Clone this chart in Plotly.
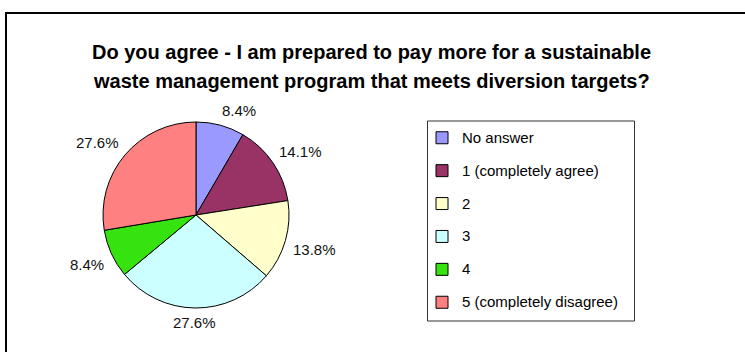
import math
import plotly.graph_objects as go

W, H = 745, 352

categories = ["No answer", "1 (completely agree)", "2", "3", "4", "5 (completely disagree)"]
percentages = [8.4, 14.1, 13.8, 27.6, 8.4, 27.6]
colors = ["#9999FF", "#993366", "#FFFFCC", "#CCFFFF", "#36E30E", "#FF8080"]
title_lines = [
    "Do you agree - I am prepared to pay more for a sustainable",
    "waste management program that meets diversion targets?",
]

FONT = "Liberation Sans, Arial, sans-serif"

# pie geometry (pixels)
CX, CY, R = 196, 215, 93


def px_x(x):
    return x / W


def px_y(y):
    return 1 - y / H


LEG_TEXT = 15
LEG_ROW = 23  # legend font size that yields the tall row pitch
legend_names = [
    f'<span style="font-size:{LEG_TEXT}px;baseline-shift:4px">{c}</span>' for c in categories
]

fig = go.Figure()
fig.add_trace(go.Pie(
    labels=legend_names,
    values=percentages,
    sort=False,
    direction="clockwise",
    rotation=0,
    marker=dict(colors=colors, line=dict(color="black", width=1)),
    textinfo="none",
    hoverinfo="skip",
    domain=dict(x=[px_x(CX - R), px_x(CX + R)], y=[px_y(CY + R), px_y(CY - R)]),
))

annotations = []
for i, line in enumerate(title_lines):
    annotations.append(dict(
        text=f"<b>{line}</b>", x=px_x(371), y=px_y(52 + 29 * i),
        xref="paper", yref="paper", xanchor="center", yanchor="middle",
        showarrow=False, font=dict(family=FONT, size=20, color="black"),
    ))

# percentage labels: near corner of each label anchored just outside the slice mid angle
total = sum(percentages)
cum = 0.0
LAB = 15
GAP = 101
for v in percentages:
    mid = (cum + v / 2) / total * 2 * math.pi
    cum += v
    ux, uy = math.sin(mid), -math.cos(mid)
    txt = f"{v:.1f}%"
    half_w = len(txt) * LAB * 0.56 / 2
    half_h = 7
    ox = half_w * max(-1.0, min(1.0, ux * 4))
    oy = half_h * max(-1.0, min(1.0, uy * 4))
    annotations.append(dict(
        text=txt, x=px_x(CX + ux * GAP + ox), y=px_y(CY + uy * GAP + oy),
        xref="paper", yref="paper", xanchor="center", yanchor="middle",
        showarrow=False, font=dict(family=FONT, size=LAB, color="#111111"),
    ))

shapes = [
    # outer chart border
    dict(type="rect", xref="paper", yref="paper",
         x0=px_x(6), x1=px_x(W + 20), y0=px_y(H + 20), y1=px_y(13),
         line=dict(color="black", width=2), fillcolor="rgba(0,0,0,0)", layer="above"),
    # legend box
    dict(type="rect", xref="paper", yref="paper",
         x0=px_x(427.5), x1=px_x(634.5), y0=px_y(321), y1=px_y(121),
         line=dict(color="#333333", width=1), fillcolor="rgba(0,0,0,0)"),
]

fig.update_layout(
    width=W, height=H,
    margin=dict(l=0, r=0, t=0, b=0),
    paper_bgcolor="white", plot_bgcolor="white",
    showlegend=True,
    legend=dict(
        x=px_x(422), y=px_y(116.3), xanchor="left", yanchor="top",
        font=dict(family=FONT, size=LEG_ROW, color="black"),
        bgcolor="rgba(0,0,0,0)", borderwidth=0,
    ),
    annotations=annotations,
    shapes=shapes,
)

fig.write_html("out.html", config={"displayModeBar": False},
               post_script="document.body.style.margin='0';")
